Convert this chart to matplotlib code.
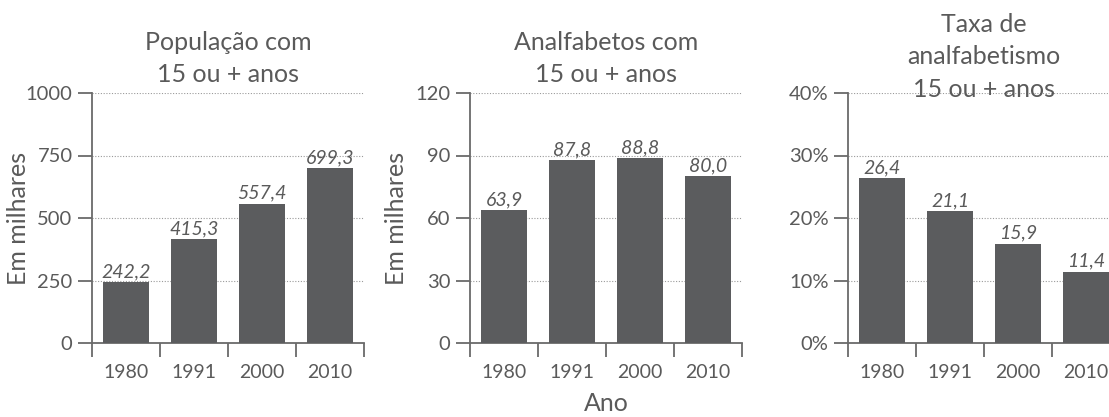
import matplotlib.pyplot as plt
from matplotlib.ticker import FixedLocator

plt.rcParams['font.family'] = ['Lato', 'DejaVu Sans']

YEARS = ['1980', '1991', '2000', '2010']
POPULACAO = [242.2, 415.3, 557.4, 699.3]
ANALFABETOS = [63.9, 87.8, 88.8, 80.0]
TAXA = [26.4, 21.1, 15.9, 11.4]

TITLES = ['População com\n15 ou + anos',
          'Analfabetos com\n15 ou + anos',
          'Taxa de\nanalfabetismo\n15 ou + anos']
Y_TICKS = [[0, 250, 500, 750, 1000], [0, 30, 60, 90, 120], [0, 10, 20, 30, 40]]
Y_TICKLABELS = [['0', '250', '500', '750', '1000'],
                ['0', '30', '60', '90', '120'],
                ['0%', '10%', '20%', '30%', '40%']]

BAR_COLOR = '#5b5c5e'
TEXT_COLOR = '#5a5a5a'
AXIS_COLOR = '#6a6a6a'

W, H = 1109, 417
fig = plt.figure(figsize=(W / 100, H / 100), dpi=100)

lefts = [92, 470, 848]
ax_w = 272
y_bottom, y_top = 343, 93


def fmt(v):
    return f"{v:.1f}".replace('.', ',')


axes = []
for i, data in enumerate([POPULACAO, ANALFABETOS, TAXA]):
    ax = fig.add_axes([lefts[i] / W, 1 - y_bottom / H, ax_w / W, (y_bottom - y_top) / H])
    axes.append(ax)
    x = range(len(YEARS))
    ax.bar(x, data, width=0.68, color=BAR_COLOR, zorder=3)
    top = Y_TICKS[i][-1]
    for xi, v in zip(x, data):
        ax.text(xi, v + top * 0.008, fmt(v), ha='center', va='bottom',
                style='italic', fontsize=14, color=TEXT_COLOR, zorder=4)
    ax.set_xlim(-0.5, 3.5)
    ax.set_ylim(0, top)
    ax.set_yticks(Y_TICKS[i])
    ax.set_yticklabels(Y_TICKLABELS[i])
    ax.yaxis.grid(True, linestyle=(0, (1, 1.5)), color='#9a9a9a', linewidth=0.8, zorder=0)
    ax.xaxis.set_major_locator(FixedLocator([-0.5, 0.5, 1.5, 2.5, 3.5]))
    ax.set_xticklabels([])
    ax.set_xticks(list(x), minor=True)
    ax.set_xticklabels(YEARS, minor=True)
    ax.tick_params(axis='x', which='major', direction='out', length=10, width=1.3, color=AXIS_COLOR)
    ax.tick_params(axis='x', which='minor', length=0, pad=15, labelsize=14, labelcolor=TEXT_COLOR)
    ax.tick_params(axis='y', direction='out', length=10, width=1.3, color=AXIS_COLOR,
                   labelsize=14.5, labelcolor=TEXT_COLOR, pad=4)
    for s in ['top', 'right']:
        ax.spines[s].set_visible(False)
    for s in ['left', 'bottom']:
        ax.spines[s].set_color(AXIS_COLOR)
        ax.spines[s].set_linewidth(1.3)
    if i < 2:
        ax.set_title(TITLES[i], fontsize=18, color=TEXT_COLOR, linespacing=1.45, pad=8)
    else:
        # third title sits lower, its last line over the top gridline
        ax.set_title(TITLES[i], fontsize=18, color=TEXT_COLOR, linespacing=1.5, y=0.952)

for ax in axes[:2]:
    ax.set_ylabel('Em milhares', fontsize=18, color=TEXT_COLOR)
    ax.yaxis.set_label_coords(-0.228, 0.5)
axes[1].set_xlabel('Ano', fontsize=18, color=TEXT_COLOR, labelpad=8)

fig.savefig('out.png', dpi=100)
